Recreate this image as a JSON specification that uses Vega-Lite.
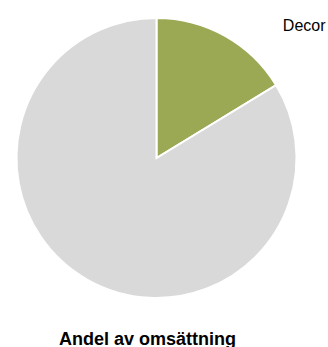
{
  "$schema": "https://vega.github.io/schema/vega-lite/v6.json",
  "autosize": {"type": "none"},
  "width": 313,
  "height": 316,
  "padding": {"left": 0, "top": 0, "right": 15, "bottom": 31},
  "background": "white",
  "view": {"stroke": null},
  "title": {
    "text": "Andel av omsättning",
    "orient": "bottom",
    "anchor": "middle",
    "dx": -9,
    "offset": 15,
    "font": "Liberation Sans",
    "fontSize": 18,
    "fontWeight": "bold",
    "color": "#000000"
  },
  "data": {
    "values": [
      {"category": "Decor", "share": 16.3, "label": "Decor", "order": 1},
      {"category": "Övrigt", "share": 83.7, "label": "", "order": 2}
    ]
  },
  "encoding": {
    "theta": {"field": "share", "type": "quantitative", "stack": true},
    "order": {"field": "order", "type": "ordinal"}
  },
  "layer": [
    {
      "mark": {"type": "arc", "radius": 140, "stroke": "white", "strokeWidth": 2},
      "encoding": {
        "color": {
          "field": "category",
          "type": "nominal",
          "scale": {"domain": ["Decor", "Övrigt"], "range": ["#9BA955", "#D9D9D9"]},
          "legend": null
        }
      }
    },
    {
      "mark": {
        "type": "text",
        "radius": 183,
        "thetaOffset": 0.25,
        "align": "left",
        "baseline": "middle",
        "font": "Liberation Sans",
        "fontSize": 16,
        "color": "#000000"
      },
      "encoding": {
        "text": {"field": "label", "type": "nominal"}
      }
    }
  ]
}
